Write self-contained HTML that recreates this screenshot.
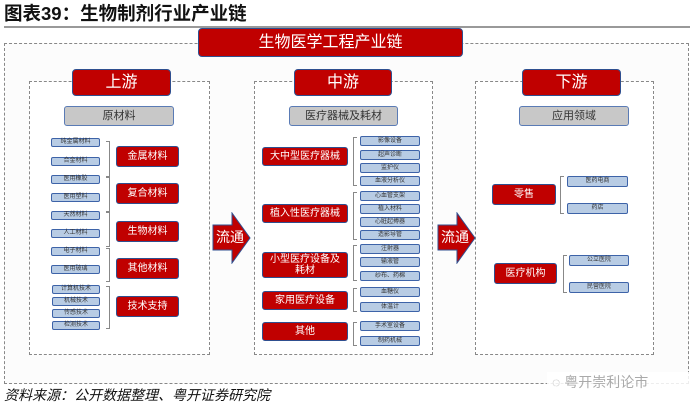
<!DOCTYPE html>
<html><head><meta charset="utf-8"><style>
body{margin:0;width:700px;height:411px;background:#fff;position:relative;overflow:hidden;font-family:"Liberation Sans","Noto Sans CJK SC",sans-serif}
div{position:absolute;box-sizing:border-box}
.t{display:flex;align-items:center;justify-content:center;text-align:center;line-height:1.1}
.r{background:#c00000;color:#fff;border:1px solid #2f4f8f;border-radius:3px;font-size:10px}
.h{background:#c00000;color:#fff;border:1px solid #2f4f8f;border-radius:4px;font-size:16px}
.g{background:#c8c8c8;color:#333;border:1px solid #5a7bb5;border-radius:3px;font-size:11px}
.s{background:#b8cce4;color:#333;border:1px solid #3d63a8;border-radius:2px;font-size:6px}
.d{border:1px dashed #888}
.b{border:1px solid #888;border-right:none;width:4px}
.b2{border:1px solid #888;border-left:none;width:4px}
</style></head><body>
<div style="left:4px;top:2px;font-size:18.5px;font-weight:bold;color:#111;line-height:23px">图表39：生物制剂行业产业链</div>
<div style="left:4px;top:26px;width:686px;height:2px;background:#999"></div>
<div class="d" style="left:4px;top:43px;width:685px;height:341px;background:#fcfcfc"></div>
<div class="t h" style="left:198px;top:28px;width:265px;height:29px;font-size:16px">生物医学工程产业链</div>

<div class="d" style="left:29px;top:81px;width:181px;height:274px;background:#fff"></div>
<div class="d" style="left:254px;top:81px;width:179px;height:274px;background:#fff"></div>
<div class="d" style="left:475px;top:81px;width:179px;height:274px;background:#fff"></div>
<div class="t h" style="left:72px;top:69px;width:99px;height:27px">上游</div>
<div class="t h" style="left:294px;top:69px;width:98px;height:27px">中游</div>
<div class="t h" style="left:522px;top:69px;width:99px;height:27px">下游</div>
<div class="t g" style="left:64px;top:106px;width:110px;height:20px">原材料</div>
<div class="t g" style="left:289px;top:106px;width:109px;height:20px">医疗器械及耗材</div>
<div class="t g" style="left:519px;top:106px;width:110px;height:20px">应用领域</div>

<div class="t s" style="left:51px;top:138px;width:49px;height:9px">纯金属材料</div>
<div class="t s" style="left:51px;top:157px;width:49px;height:9px">合金材料</div>
<div class="t s" style="left:51px;top:175px;width:49px;height:9px">医用橡胶</div>
<div class="t s" style="left:51px;top:193px;width:49px;height:9px">医用塑料</div>
<div class="t s" style="left:51px;top:211px;width:49px;height:9px">天然材料</div>
<div class="t s" style="left:51px;top:229px;width:49px;height:9px">人工材料</div>
<div class="t s" style="left:51px;top:247px;width:49px;height:9px">电子材料</div>
<div class="t s" style="left:51px;top:265px;width:49px;height:9px">医用玻璃</div>
<div class="t s" style="left:52px;top:285px;width:48px;height:9px">计算机技术</div>
<div class="t s" style="left:52px;top:297px;width:48px;height:9px">机械技术</div>
<div class="t s" style="left:52px;top:309px;width:48px;height:9px">传感技术</div>
<div class="t s" style="left:52px;top:321px;width:48px;height:9px">检测技术</div>
<div class="b2" style="left:106px;top:141px;height:36px"></div>
<div class="b2" style="left:106px;top:177px;height:35px"></div>
<div class="b2" style="left:106px;top:212px;height:35px"></div>
<div class="b2" style="left:106px;top:248px;height:34px"></div>
<div class="b2" style="left:106px;top:286px;height:43px"></div>
<div class="t r" style="left:116px;top:146px;width:63px;height:21px">金属材料</div>
<div class="t r" style="left:116px;top:183px;width:63px;height:21px">复合材料</div>
<div class="t r" style="left:116px;top:221px;width:63px;height:21px">生物材料</div>
<div class="t r" style="left:116px;top:258px;width:63px;height:21px">其他材料</div>
<div class="t r" style="left:116px;top:296px;width:63px;height:21px">技术支持</div>

<svg style="position:absolute;left:212px;top:212px" width="40" height="52"><polygon points="1,13 20,13 20,1 38,26 20,51 20,38 1,38" fill="#c00000" stroke="#2f4f8f"/></svg>
<div class="t" style="left:212px;top:225px;width:36px;height:25px;color:#fff;font-size:14px">流通</div>
<svg style="position:absolute;left:437px;top:212px" width="40" height="52"><polygon points="1,13 20,13 20,1 38,26 20,51 20,38 1,38" fill="#c00000" stroke="#2f4f8f"/></svg>
<div class="t" style="left:437px;top:225px;width:36px;height:25px;color:#fff;font-size:14px">流通</div>

<div class="t r" style="left:262px;top:147px;width:86px;height:19px">大中型医疗器械</div>
<div class="t r" style="left:262px;top:204px;width:86px;height:19px">植入性医疗器械</div>
<div class="t r" style="left:262px;top:252px;width:86px;height:26px">小型医疗设备及<br>耗材</div>
<div class="t r" style="left:262px;top:291px;width:86px;height:19px">家用医疗设备</div>
<div class="t r" style="left:262px;top:322px;width:86px;height:19px">其他</div>
<div class="b" style="left:353px;top:137px;height:49px"></div>
<div class="b" style="left:353px;top:192px;height:48px"></div>
<div class="b" style="left:353px;top:245px;height:36px"></div>
<div class="b" style="left:353px;top:288px;height:24px"></div>
<div class="b" style="left:353px;top:322px;height:24px"></div>
<div class="t s" style="left:360px;top:136px;width:60px;height:10px">影像设备</div>
<div class="t s" style="left:360px;top:150px;width:60px;height:10px">超声诊断</div>
<div class="t s" style="left:360px;top:163px;width:60px;height:10px">监护仪</div>
<div class="t s" style="left:360px;top:176px;width:60px;height:10px">血液分析仪</div>
<div class="t s" style="left:360px;top:191px;width:60px;height:10px">心血管支架</div>
<div class="t s" style="left:360px;top:204px;width:60px;height:10px">植入材料</div>
<div class="t s" style="left:360px;top:217px;width:60px;height:10px">心脏起搏器</div>
<div class="t s" style="left:360px;top:230px;width:60px;height:10px">造影导管</div>
<div class="t s" style="left:360px;top:244px;width:60px;height:10px">注射器</div>
<div class="t s" style="left:360px;top:257px;width:60px;height:10px">输液管</div>
<div class="t s" style="left:360px;top:271px;width:60px;height:10px">纱布、药棉</div>
<div class="t s" style="left:360px;top:287px;width:60px;height:10px">血糖仪</div>
<div class="t s" style="left:360px;top:302px;width:60px;height:10px">体温计</div>
<div class="t s" style="left:360px;top:321px;width:60px;height:10px">手术室设备</div>
<div class="t s" style="left:360px;top:336px;width:60px;height:10px">制药机械</div>

<div class="t r" style="left:492px;top:184px;width:64px;height:21px">零售</div>
<div class="t r" style="left:494px;top:263px;width:63px;height:21px">医疗机构</div>
<div class="b" style="left:560px;top:176px;height:38px"></div>
<div class="b" style="left:563px;top:255px;height:38px"></div>
<div class="t s" style="left:567px;top:176px;width:61px;height:11px">医药电商</div>
<div class="t s" style="left:567px;top:203px;width:61px;height:11px">药店</div>
<div class="t s" style="left:569px;top:255px;width:60px;height:11px">公立医院</div>
<div class="t s" style="left:569px;top:282px;width:60px;height:11px">民营医院</div>

<div style="left:547px;top:372px;width:144px;height:20px;background:#fff;opacity:.85"></div>
<div style="left:552px;top:372px;font-size:14px;color:#aaa">◌ 粤开崇利论市</div>
<div style="left:4px;top:385px;font-size:14px;font-style:italic;color:#111">资料来源：公开数据整理、粤开证券研究院</div>
</body></html>
